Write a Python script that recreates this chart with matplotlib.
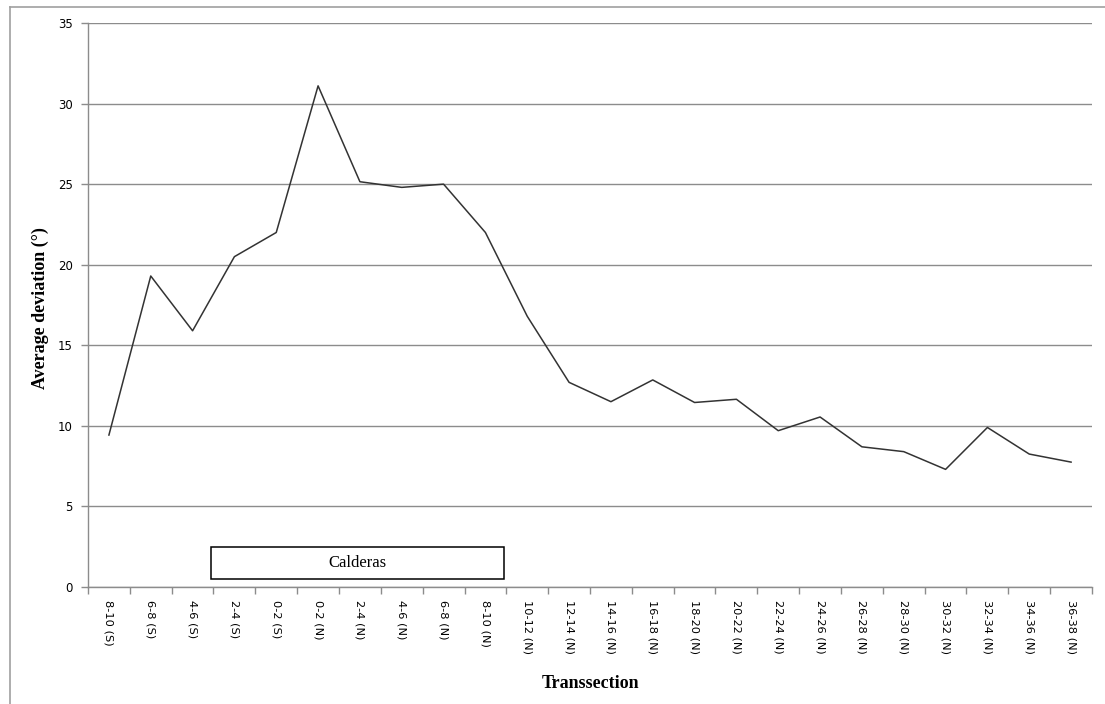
import matplotlib
matplotlib.use("Agg")
import matplotlib.pyplot as plt
from matplotlib.patches import Rectangle
import numpy as np

categories = ["8-10 (S)", "6-8 (S)", "4-6 (S)", "2-4 (S)", "0-2 (S)",
              "0-2 (N)", "2-4 (N)", "4-6 (N)", "6-8 (N)", "8-10 (N)",
              "10-12 (N)", "12-14 (N)", "14-16 (N)", "16-18 (N)", "18-20 (N)",
              "20-22 (N)", "22-24 (N)", "24-26 (N)", "26-28 (N)", "28-30 (N)",
              "30-32 (N)", "32-34 (N)", "34-36 (N)", "36-38 (N)"]
values = [9.43, 19.3, 15.9, 20.5, 22.0,
          31.1, 25.15, 24.8, 25.0, 22.0,
          16.8, 12.7, 11.5, 12.85, 11.45,
          11.65, 9.7, 10.55, 8.7, 8.4,
          7.3, 9.9, 8.25, 7.75]
yticks = [0, 5, 10, 15, 20, 25, 30, 35]
caldera_span = [2.45, 9.45]
caldera_y = [0.5, 2.5]

W, H = 1105, 704
fig = plt.figure(figsize=(W / 100, H / 100), dpi=100)
ax = fig.add_axes([88 / W, (H - 587) / H, (1092 - 88) / W, (587 - 23) / H])

# chart-area border (left/top visible)
fig.add_artist(plt.Line2D([10 / W, 10 / W], [0, 1 - 7 / H], transform=fig.transFigure,
                          color="#a0a0a0", lw=1.2))
fig.add_artist(plt.Line2D([10 / W, 1], [1 - 7 / H, 1 - 7 / H], transform=fig.transFigure,
                          color="#a0a0a0", lw=1.2))

x = np.arange(len(categories))
ax.plot(x, values, color="#333333", lw=1.1)

ax.set_xlim(-0.5, len(categories) - 0.5)
ax.set_ylim(0, 35)
ax.set_yticks(yticks)
ax.yaxis.grid(True, color="#8c8c8c", lw=1)
ax.set_axisbelow(True)

ax.set_xticks(x)
ax.set_xticklabels(categories, rotation=-90, fontsize=8.2, family="DejaVu Sans")
ax.tick_params(axis="x", which="major", length=0, pad=9)
ax.set_xticks(np.arange(-0.5, len(categories), 1), minor=True)
ax.tick_params(axis="x", which="minor", length=5, color="#8c8c8c", width=1)
ax.tick_params(axis="y", length=5, color="#8c8c8c", width=1, labelsize=8.5, pad=6)

for s in ["top", "right"]:
    ax.spines[s].set_visible(False)
for s in ["left", "bottom"]:
    ax.spines[s].set_color("#8c8c8c")
    ax.spines[s].set_linewidth(1)

rect = Rectangle((caldera_span[0], caldera_y[0]), caldera_span[1] - caldera_span[0],
                 caldera_y[1] - caldera_y[0], facecolor="white", edgecolor="black", lw=1.1,
                 zorder=5)
ax.add_patch(rect)
ax.text((caldera_span[0] + caldera_span[1]) / 2, (caldera_y[0] + caldera_y[1]) / 2,
        "Calderas", ha="center", va="center", fontsize=12, family="Liberation Serif", zorder=6)

ax.set_ylabel("Average deviation (°)", fontsize=13, fontweight="bold",
              family="Liberation Serif", va="center")
ax.yaxis.set_label_coords((40 - 88) / (1092 - 88), (587 - 308) / (587 - 23))
ax.set_xlabel("Transsection", fontsize=13, fontweight="bold", family="Liberation Serif",
              va="center")
ax.xaxis.set_label_coords(0.5, -(683 - 587) / (587 - 23))

fig.savefig("out.png", dpi=100)
